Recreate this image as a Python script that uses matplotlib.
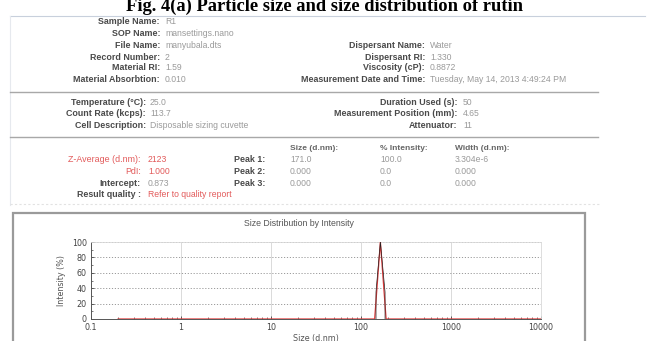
import matplotlib
matplotlib.use("Agg")
import matplotlib.pyplot as plt
from matplotlib.lines import Line2D
from matplotlib.patches import Rectangle
from matplotlib.ticker import FixedLocator, NullFormatter

# ---------------- data ----------------
fig_title = "Fig. 4(a) Particle size and size distribution of rutin"

info_left_labels = ["Sample Name:", "SOP Name:", "File Name:", "Record Number:",
                    "Material RI:", "Material Absorbtion:"]
info_left_values = ["R1", "mansettings.nano", "manyubala.dts", "2", "1.59", "0.010"]

info_right_labels = ["Dispersant Name:", "Dispersant RI:", "Viscosity (cP):",
                     "Measurement Date and Time:"]
info_right_values = ["Water", "1.330", "0.8872", "Tuesday, May 14, 2013 4:49:24 PM"]

cond_left_labels = ["Temperature (°C):", "Count Rate (kcps):", "Cell Description:"]
cond_left_values = ["25.0", "113.7", "Disposable sizing cuvette"]
cond_right_labels = ["Duration Used (s):", "Measurement Position (mm):", "Attenuator:"]
cond_right_values = ["50", "4.65", "11"]

result_labels = ["Z-Average (d.nm):", "PdI:", "Intercept:", "Result quality :"]
result_values = ["2123", "1.000", "0.873", "Refer to quality report"]
result_red = [True, True, False, True]

peak_headers = ["Size (d.nm):", "% Intensity:", "Width (d.nm):"]
peak_names = ["Peak 1:", "Peak 2:", "Peak 3:"]
peak_size = ["171.0", "0.000", "0.000"]
peak_intensity = ["100.0", "0.0", "0.0"]
peak_width = ["3.304e-6", "0.000", "0.000"]

chart_title = "Size Distribution by Intensity"
x_label = "Size (d.nm)"
y_label = "Intensity (%)"
x_ticks = [0.1, 1, 10, 100, 1000, 10000]
x_tick_labels = ["0.1", "1", "10", "100", "1000", "10000"]
y_ticks = [0, 20, 40, 60, 80, 100]

# red record (size in d.nm, intensity %)
red_size = [0.2, 122.4, 141.8, 164.2, 190.1, 220.2, 10000]
red_intensity = [0, 0, 0, 100, 0, 0, 0]
# black overlay record
black_size = [146.8, 146.8, 164.2, 185.0, 185.0]
black_intensity = [0, 35, 100, 35, 0]

# ---------------- layout ----------------
W, H = 651, 341
fig = plt.figure(figsize=(W / 100, H / 100), dpi=100)
fig.patch.set_facecolor("white")

def fx(x):
    return x / W

def fy(y):
    return 1 - y / H

def T(x, y, s, **kw):
    kw.setdefault("va", "center")
    kw.setdefault("family", ["Liberation Sans", "DejaVu Sans"])
    fig.text(fx(x), fy(y), s, **kw)

def hline(x0, x1, y, **kw):
    fig.add_artist(Line2D([fx(x0), fx(x1)], [fy(y), fy(y)], transform=fig.transFigure, **kw))

LC = "#4a4a4a"
VC = "#9a9a9a"
RED = "#e25a5a"
LBL = dict(fontsize=6.4, fontweight="bold", color=LC, ha="right")
VAL = dict(fontsize=6.2, color=VC, ha="left")

# figure caption
fig.text(fx(325), fy(10.5), fig_title, ha="center", va="baseline",
         fontsize=13.3, fontweight="bold", family=["Liberation Serif", "DejaVu Serif"])

# report borders
hline(10, 645, 16, color="#c8d0dc", lw=0.8)
fig.add_artist(Line2D([fx(10), fx(10)], [fy(16), fy(205)], transform=fig.transFigure,
                      color="#e6e9ee", lw=0.8))
hline(10, 598, 92, color="#a8a8a8", lw=1.0)
hline(10, 598, 137, color="#a8a8a8", lw=1.0)
hline(10, 600, 204, color="#e2e2e2", lw=0.8, ls=(0, (2, 2)))

# sample info
rows_y = [21, 33, 46, 57, 68, 80]
for lab, val, y in zip(info_left_labels, info_left_values, rows_y):
    T(160, y, lab, **LBL)
    T(165, y, val, **VAL)
for lab, val, y in zip(info_right_labels, info_right_values, rows_y[2:]):
    T(425, y, lab, **LBL)
    T(430, y, val, **VAL)

# conditions
cond_y = [103, 114, 126]
for lab, val, y in zip(cond_left_labels, cond_left_values, cond_y):
    T(146, y, lab, **LBL)
    T(150, y, val, **VAL)
for lab, val, y in zip(cond_right_labels, cond_right_values, cond_y):
    T(457, y, lab, **LBL)
    T(463, y, val, **VAL)

# results
res_y = [160, 171, 183, 194]
for lab, val, red, y in zip(result_labels, result_values, result_red, res_y):
    is_red_label = red and lab != "Result quality :"
    T(141, y, lab, fontsize=6.4, fontweight="normal" if is_red_label else "bold",
      color=RED if is_red_label else LC, ha="right")
    T(148, y, val, fontsize=6.2, color=RED if red else VC, ha="left")

col_x = [290, 380, 455]
for h, x in zip(peak_headers, col_x):
    T(x, 148, h, fontsize=6.0, fontweight="bold", color="#666666", ha="left")
for i, y in enumerate(res_y[:3]):
    T(265, y, peak_names[i], **LBL)
    T(col_x[0], y, peak_size[i], **VAL)
    T(col_x[1], y, peak_intensity[i], **VAL)
    T(col_x[2], y, peak_width[i], **VAL)

# chart frame
fig.add_artist(Rectangle((fx(13), fy(350)), fx(585) - fx(13), fy(213) - fy(350),
                         transform=fig.transFigure, fill=False,
                         edgecolor="#9a9a9a", lw=1.6))
T(299, 224, chart_title, fontsize=6.3, color="#555555", ha="center")

# chart axes
ax = fig.add_axes([fx(91), fy(319), fx(541) - fx(91), fy(242) - fy(319)])
ax.set_xscale("log")
ax.set_xlim(0.1, 10000)
ax.set_ylim(0, 100)
ax.plot(red_size, red_intensity, color="#e03a3a", lw=0.9, zorder=3)
ax.plot(black_size, black_intensity, color="#222222", lw=0.5, zorder=4)

ax.set_xticks(x_ticks)
ax.set_xticklabels(x_tick_labels)
ax.xaxis.set_minor_locator(FixedLocator([m * 10.0 ** e for e in range(-1, 4) for m in range(2, 10)]))
ax.xaxis.set_minor_formatter(NullFormatter())
ax.set_yticks(y_ticks)
ax.yaxis.set_minor_locator(FixedLocator([10, 30, 50, 70, 90]))
ax.tick_params(axis="both", which="major", labelsize=5.8, colors="#444444",
               direction="in", length=2.5, width=0.6, pad=3)
ax.tick_params(axis="both", which="minor", direction="in", length=1.5, width=0.5, colors="#444444")
ax.grid(True, axis="x", which="major", color="#d4d4d4", lw=0.6, ls="-")
ax.grid(True, axis="y", which="major", color="#9a9a9a", lw=0.7, ls=(0, (1.2, 1.8)))
for s in ["top", "right"]:
    ax.spines[s].set_color("#d8d8d8")
    ax.spines[s].set_linewidth(0.6)
for s in ["left", "bottom"]:
    ax.spines[s].set_color("#555555")
    ax.spines[s].set_linewidth(0.7)
ax.set_xlabel(x_label, fontsize=5.8, color="#555555", labelpad=1.5)
ax.set_ylabel(y_label, fontsize=5.8, color="#555555", labelpad=4)

fig.savefig("out.png", dpi=100, facecolor="white")
